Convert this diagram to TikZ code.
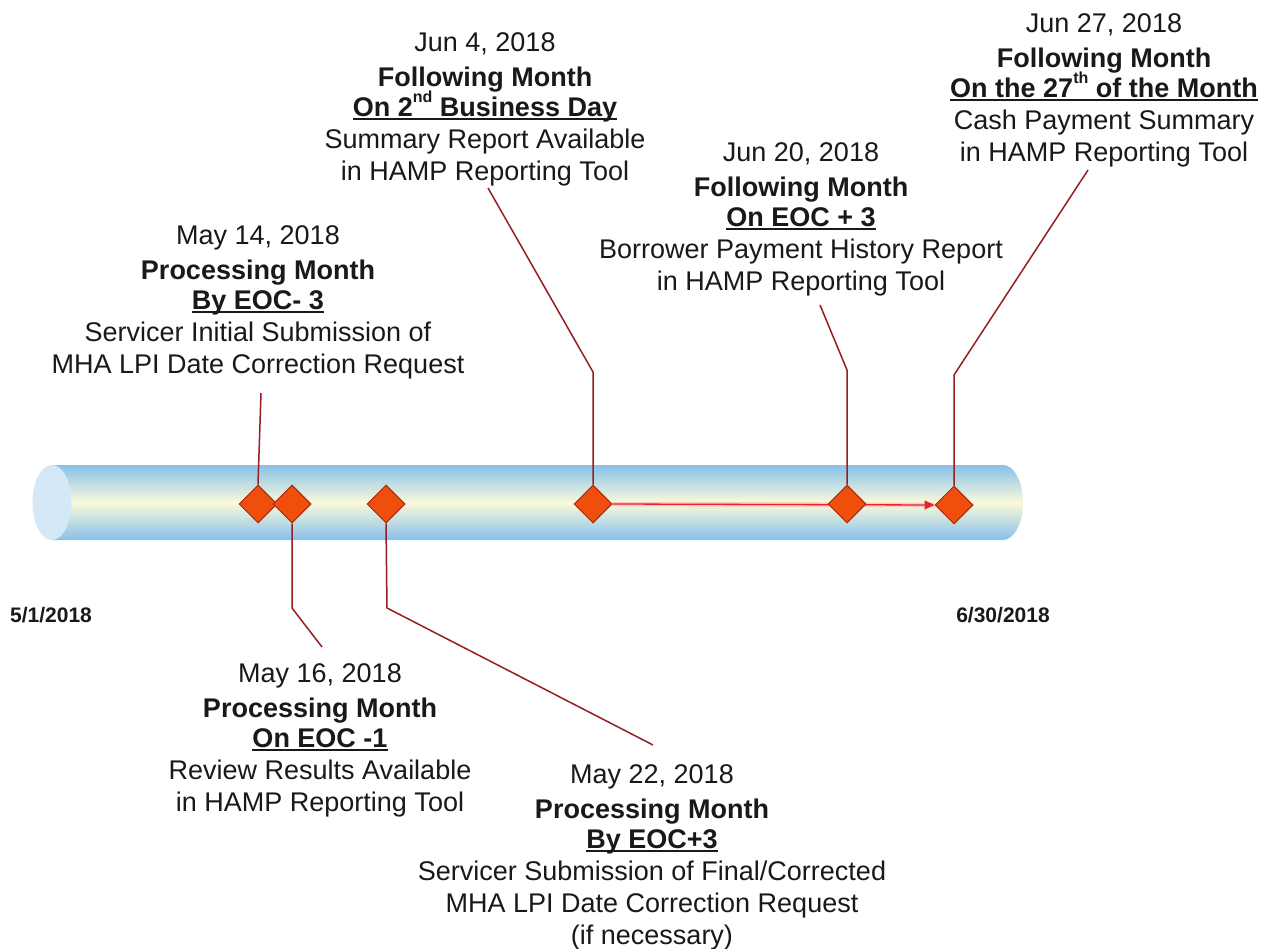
\documentclass[tikz,border=0pt]{standalone}
\usepackage{fontspec}
\setmainfont{Liberation Sans}
\usetikzlibrary{shapes.geometric,arrows.meta}
\definecolor{tubeblue}{RGB}{135,192,234}
\definecolor{tubecream}{RGB}{250,250,218}
\definecolor{capblue}{RGB}{212,232,247}
\definecolor{diafill}{RGB}{240,78,12}
\definecolor{diadraw}{RGB}{165,40,20}
\definecolor{leader}{RGB}{150,30,35}
\definecolor{arrowred}{RGB}{228,38,38}
\definecolor{txt}{RGB}{25,25,25}
\newcommand\ulx[1]{\setbox0\hbox{#1}\rlap{\rule[-3.5pt]{\wd0}{1.6pt}}\box0}
\newcommand\supx[1]{\raisebox{0.5em}{\fontsize{16}{16}\selectfont #1}}
\pgfdeclarelayer{tube}
\pgfdeclarelayer{link}
\pgfsetlayers{tube,link,main}
\begin{document}
\begin{tikzpicture}[x=1pt,y=-1pt,
  dia/.style={diamond, aspect=1, minimum size=38pt, inner sep=0pt, fill=diafill, draw=diadraw, line width=1pt},
  lbl/.style={align=center, text=txt, inner sep=0pt, font=\fontsize{27}{32}\selectfont},
  datelbl/.style={text=txt, inner sep=0pt, font=\bfseries\fontsize{21}{24}\selectfont},
  leaderline/.style={draw=leader, line width=1.5pt},
  glow/.style={draw=red!22, line width=4.5pt},
  arrowline/.style={draw=arrowred, line width=1.3pt, -{Triangle[length=10pt,width=9pt]}}]
\useasboundingbox (0,0) rectangle (1263,949);
\begin{pgfonlayer}{tube}
\fill[white] (0,0) rectangle (1263,949);
\shade[top color=tubeblue, bottom color=tubeblue, middle color=tubecream]
  (52,465) -- (1003,465) .. controls (1014,465) and (1023,482) .. (1023,502.5)
  .. controls (1023,523) and (1014,540) .. (1003,540) -- (52,540) -- cycle;
\node[ellipse, minimum width=39pt, minimum height=75pt, inner sep=0pt, fill=capblue] (cap) at (52,502.5) {};
\end{pgfonlayer}

% diamonds
\node[dia] (d1) at (258,504) {};
\node[dia] (d2) at (292,504) {};
\node[dia] (d3) at (386,504) {};
\node[dia] (d4) at (593,504) {};
\node[dia] (d5) at (847,504) {};
\node[dia] (d6) at (954,505) {};

% labels
\node[lbl] (t1) at (258,302) {May 14, 2018\\[3pt]\textbf{Processing Month}\\[-2pt]\textbf{\ulx{By EOC- 3}}\\Servicer Initial Submission of\\MHA LPI Date Correction Request};
\node[lbl] (t4) at (485,109) {Jun 4, 2018\\[3pt]\textbf{Following Month}\\[-2pt]\textbf{\ulx{On 2\supx{nd} Business Day}}\\Summary Report Available\\in HAMP Reporting Tool};
\node[lbl] (t5) at (801,219) {Jun 20, 2018\\[3pt]\textbf{Following Month}\\[-2pt]\textbf{\ulx{On EOC + 3}}\\Borrower Payment History Report\\in HAMP Reporting Tool};
\node[lbl] (t6) at (1104,90) {Jun 27, 2018\\[3pt]\textbf{Following Month}\\[-2pt]\textbf{\ulx{On the 27\supx{th} of the Month}}\\Cash Payment Summary\\in HAMP Reporting Tool};
\node[lbl] (t2) at (320,740) {May 16, 2018\\[3pt]\textbf{Processing Month}\\[-2pt]\textbf{\ulx{On EOC -1}}\\Review Results Available\\in HAMP Reporting Tool};
\node[lbl] (t3) at (652,857) {May 22, 2018\\[3pt]\textbf{Processing Month}\\[-2pt]\textbf{\ulx{By EOC+3}}\\Servicer Submission of Final/Corrected\\MHA LPI Date Correction Request\\(if necessary)};

\node[datelbl] (start) at (51,615) {5/1/2018};
\node[datelbl] (end) at (1003,615) {6/30/2018};

% leader ends
\coordinate (c1) at (261,393);
\coordinate (b2) at (292,608);
\coordinate (c2) at (322,647);
\coordinate (b3) at (387,608);
\coordinate (c3) at (653,745);
\coordinate (b4) at (593,372);
\coordinate (c4) at (488,188);
\coordinate (b5) at (847,370);
\coordinate (c5) at (820,305);
\coordinate (b6) at (954,375);
\coordinate (c6) at (1088,170);

\begin{pgfonlayer}{link}
\path[glow] (d4.east) -- (d6.west);
\path[arrowline] (d4.east) -- (d6.west);
\path[leaderline] (d1.north) -- (c1);
\path[leaderline] (d2.south) -- (b2) -- (c2);
\path[leaderline] (d3.south) -- (b3) -- (c3);
\path[leaderline] (d4.north) -- (b4) -- (c4);
\path[leaderline] (d5.north) -- (b5) -- (c5);
\path[leaderline] (d6.north) -- (b6) -- (c6);
\end{pgfonlayer}
\end{tikzpicture}
\end{document}
